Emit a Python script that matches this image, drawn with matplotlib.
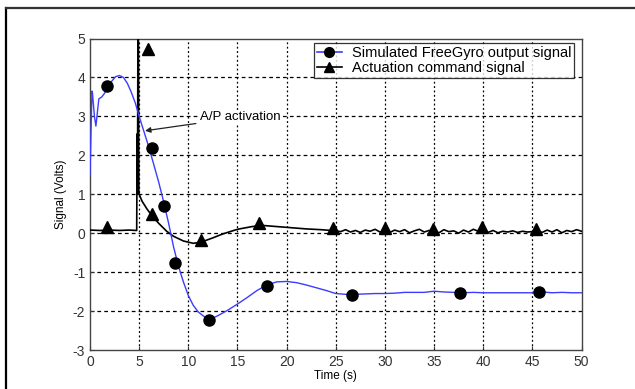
import numpy as np
import matplotlib
matplotlib.use('Agg')
import matplotlib.pyplot as plt
from matplotlib.lines import Line2D

plt.rcParams['font.family'] = ['Liberation Sans', 'DejaVu Sans']
plt.rcParams['axes.unicode_minus'] = False

# Simulated FreeGyro output signal (blue line)
gyro_t = [0.0, 0.2, 0.25, 0.45, 0.6, 0.75, 0.9, 1.2, 1.5, 1.8, 2.2, 2.6, 3.0, 3.4, 3.8,
          4.2, 4.6, 5.0, 5.5, 6.0, 6.5, 7.0, 7.5, 8.0, 8.5, 9.0, 9.5, 10.0, 10.5, 11.0,
          11.5, 12.0, 12.5, 13.0, 14.0, 15.0, 16.0, 17.0, 18.0, 19.0, 20.0, 21.0, 22.0,
          23.0, 24.0, 25.0, 26.0, 27.0, 28.0, 29.0, 30.0, 31.0, 32.0, 33.0, 34.0, 35.0,
          36.0, 37.0, 38.0, 39.0, 40.0, 41.0, 42.0, 43.0, 44.0, 45.0, 46.0, 47.0, 48.0,
          49.0, 50.0]
gyro_v = [1.5, 3.65, 3.6, 3.0, 2.75, 3.1, 3.45, 3.5, 3.6, 3.75, 3.9, 4.02, 4.05, 4.0, 3.85,
          3.62, 3.35, 3.0, 2.6, 2.2, 1.75, 1.3, 0.8, 0.25, -0.35, -0.85, -1.25, -1.6, -1.85,
          -2.02, -2.12, -2.2, -2.18, -2.12, -1.98, -1.82, -1.65, -1.47, -1.33, -1.25, -1.24,
          -1.27, -1.33, -1.4, -1.47, -1.55, -1.57, -1.57, -1.56, -1.55, -1.55, -1.54, -1.52,
          -1.52, -1.52, -1.49, -1.51, -1.52, -1.53, -1.52, -1.53, -1.53, -1.53, -1.53,
          -1.53, -1.53, -1.51, -1.53, -1.52, -1.53, -1.53]
circle_t = [1.76, 6.27, 7.56, 8.65, 12.1, 17.97, 26.7, 37.6, 45.7]
circle_v = [3.78, 2.19, 0.69, -0.77, -2.22, -1.36, -1.58, -1.54, -1.52]

# Actuation command signal (black line)
act_t = [0.0, 1.0, 2.0, 3.0, 4.0, 4.75, 4.8, 4.83, 4.88, 4.92, 4.97, 5.0, 5.3, 5.8,
         6.3, 7.0, 7.8, 8.5, 9.5, 10.5, 11.3, 12.5, 13.5, 15.0, 16.5, 17.5, 19.0, 20.5,
         22.0, 23.5, 25.0, 25.5, 26.0, 26.5, 27.0, 27.5, 28.0, 28.5, 29.0, 29.5, 30.0,
         30.5, 31.0, 31.5, 32.0, 32.5, 33.0, 33.5, 34.0, 34.5, 35.0, 35.5, 36.0, 36.5,
         37.0, 37.5, 38.0, 38.5, 39.0, 39.5, 40.0, 40.5, 41.0, 41.5, 42.0, 42.5, 43.0,
         43.5, 44.0, 44.5, 45.0, 45.5, 46.0, 46.5, 47.0, 47.5, 48.0, 48.5, 49.0, 49.5, 50.0]
act_v = [0.08, 0.07, 0.08, 0.07, 0.08, 0.07, 2.55, 1.0, 5.6, 5.6, 1.05, 1.0, 0.82, 0.62,
         0.45, 0.25, 0.05, -0.08, -0.2, -0.26, -0.23, -0.12, -0.02, 0.1, 0.17, 0.2, 0.17,
         0.14, 0.11, 0.09, 0.06, 0.04, 0.09, 0.03, 0.07, 0.02, 0.08, 0.05, 0.1, 0.03, 0.06,
         0.02, 0.08, 0.04, 0.09, 0.01, 0.06, 0.1, 0.03, 0.07, 0.05, 0.01, 0.09, 0.04, 0.06,
         0.0, 0.08, 0.03, 0.1, 0.05, 0.04, 0.02, 0.07, 0.01, 0.05, 0.03, 0.06, 0.02, 0.05,
         0.03, 0.04, 0.06, 0.02, 0.08, 0.03, 0.09, 0.01, 0.07, 0.04, 0.09, 0.05]
tri_t = [1.7, 5.9, 6.27, 11.3, 17.2, 24.7, 30.0, 34.9, 39.9, 45.4]
tri_v = [0.16, 4.72, 0.5, -0.17, 0.27, 0.14, 0.14, 0.12, 0.17, 0.11]

xticks = list(range(0, 51, 5))
yticks = list(range(-3, 6))

blue = '#3c3cff'

fig = plt.figure(figsize=(6.35, 3.89), dpi=100)
ax = fig.add_axes([90 / 635, 1 - 350 / 389, 491.5 / 635, 311.5 / 389])

ax.plot(act_t, act_v, color='black', lw=1.2, zorder=3)
ax.plot(gyro_t, gyro_v, color=blue, lw=1.0, zorder=4)
ax.plot(circle_t, circle_v, 'o', color='black', ms=8, zorder=5)
ax.plot(tri_t, tri_v, '^', color='black', ms=8, zorder=5)

ax.set_xlim(0, 50)
ax.set_ylim(-3, 5)
ax.set_xticks(xticks)
ax.set_yticks(yticks)
ax.tick_params(direction='in', labelsize=10, length=3, colors='#333333')
for s in ax.spines.values():
    s.set_color('#444444')
    s.set_linewidth(1.0)
for t in xticks[1:-1]:
    ax.axvline(t, color='black', lw=0.9, ls=(0, (1.5, 2)), zorder=1)
for v in yticks[1:-1]:
    ax.axhline(v, color='black', lw=0.9, ls=(0, (3, 2.5)), zorder=1)

ax.set_xlabel('Time (s)', fontsize=8.5, labelpad=1)
ax.set_ylabel('Signal (Volts)', fontsize=8.5, labelpad=4)

ax.annotate('A/P activation', xy=(5.6, 2.63), xytext=(11.2, 2.98),
            fontsize=9.5, va='center', ha='left', zorder=6,
            bbox=dict(facecolor='white', edgecolor='none', pad=1),
            arrowprops=dict(arrowstyle='-|>', color='#222222', lw=0.9,
                            mutation_scale=8, shrinkA=2, shrinkB=0))

handles = [Line2D([], [], color=blue, marker='o', mfc='black', mec='black', ms=7, lw=1.2),
           Line2D([], [], color='black', marker='^', ms=7, lw=1.2)]
leg = ax.legend(handles, ['Simulated FreeGyro output signal', 'Actuation command signal'],
                loc='upper right', bbox_to_anchor=(0.985, 0.985), fontsize=10.5,
                frameon=True, fancybox=False, handlelength=1.7, handletextpad=0.7,
                borderpad=0.2, labelspacing=0.05, borderaxespad=0)
leg.get_frame().set_edgecolor('black')
leg.get_frame().set_linewidth(0.9)
leg.set_zorder(7)

# outer frame (left and top edges only)
fig.add_artist(Line2D([6 / 635, 6 / 635], [0, 1 - 8 / 389], color='black', lw=1.6,
                      transform=fig.transFigure))
fig.add_artist(Line2D([6 / 635, 1], [1 - 8 / 389, 1 - 8 / 389], color='#333333', lw=1.6,
                      transform=fig.transFigure))

fig.savefig('out.png', dpi=100)
